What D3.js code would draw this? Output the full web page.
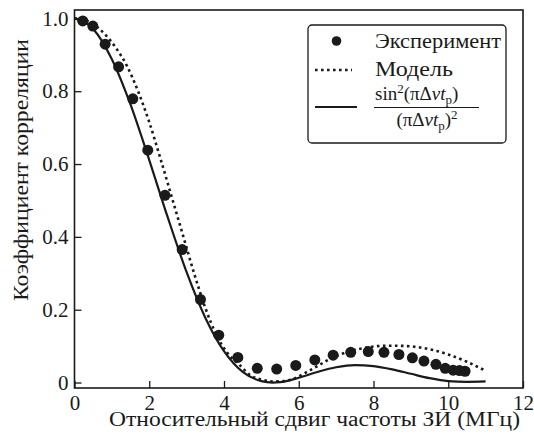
<!DOCTYPE html>
<html>
<head>
<meta charset="utf-8">
<script src="https://cdn.jsdelivr.net/npm/d3@7"></script>
</head>
<body style="margin:0">
<div id="chart"></div>
<script>
// experiment points
var expX = [0.22, 0.49, 0.82, 1.18, 1.56, 1.96, 2.42, 2.88, 3.37, 3.86, 4.37, 4.89, 5.41, 5.92,
            6.43, 6.92, 7.39, 7.86, 8.28, 8.68, 9.04, 9.35, 9.67, 9.92, 10.13, 10.3, 10.45];
var expY = [0.993, 0.979, 0.929, 0.867, 0.779, 0.638, 0.514, 0.365, 0.228, 0.130, 0.069, 0.039, 0.037, 0.047,
            0.062, 0.075, 0.083, 0.085, 0.083, 0.077, 0.068, 0.059, 0.050, 0.039, 0.034, 0.033, 0.031];

// model (dotted line)
var modelX = [0, 0.2, 0.5, 0.8, 1.1, 1.4, 1.7, 2.0, 2.3, 2.6, 2.9, 3.2, 3.5, 3.8, 4.1, 4.4, 4.7, 5.0, 5.3,
              5.6, 5.9, 6.2, 6.5, 6.8, 7.1, 7.4, 7.7, 8.0, 8.3, 8.6, 8.9, 9.2, 9.6, 10.0, 10.5, 11.0];
var modelY = [1.0, 0.998, 0.984, 0.958, 0.92, 0.87, 0.80, 0.715, 0.615, 0.51, 0.405, 0.30, 0.205, 0.13, 0.08,
              0.05, 0.02, 0.008, 0.003, 0.004, 0.012, 0.028, 0.045, 0.063, 0.077, 0.087, 0.094, 0.099, 0.101,
              0.101, 0.100, 0.097, 0.089, 0.077, 0.057, 0.032];

// sin^2/(x)^2 curve (solid line)
var sincX = [0, 0.5, 1, 1.5, 2, 2.5, 3, 3.5, 4, 4.5, 5, 5.3, 5.5, 6, 6.5, 7, 7.5, 8, 8.5, 9, 9.5, 10, 10.5, 11];
var sincY = [1, 0.971, 0.888, 0.763, 0.611, 0.452, 0.303, 0.178, 0.086, 0.029, 0.004, 0, 0.001, 0.013,
             0.029, 0.042, 0.048, 0.045, 0.036, 0.024, 0.012, 0.004, 0.002, 0.003];

var xTicks = [0, 2, 4, 6, 8, 10, 12];
var yTicks = [0, 0.2, 0.4, 0.6, 0.8, 1.0];
var xTitle = "Относительный сдвиг частоты ЗИ (МГц)";
var yTitle = "Коэффициент корреляции";
var legendLabels = ["Эксперимент", "Модель"];

var serif = '"Liberation Serif"';
var ink = "#1a1a1a";

// set the dimensions and margins of the graph
var margin = {top: 10, right: 11, bottom: 50, left: 74.5},
    width = 534 - margin.left - margin.right,
    height = 438 - margin.top - margin.bottom;

const svg = d3.select("#chart")
  .append("svg")
  .attr("width", 534)
  .attr("height", 438);

const g = svg.append("g")
  .attr("transform", `translate(${margin.left}, ${margin.top})`);

const x = d3.scaleLinear()
  .domain([0, 12])
  .range([0, width]);

const y = d3.scaleLinear()
  .domain([-0.015, 1.023])
  .range([height, 0]);

// X axis
const xAxis = g.append("g")
  .attr("transform", `translate(0, ${height})`)
  .call(d3.axisBottom(x).tickValues(xTicks).tickSize(-7).tickPadding(7).tickFormat(d3.format("d")));
xAxis.attr("font-family", serif).attr("font-size", 21);
xAxis.select(".domain").remove();
xAxis.selectAll("line").attr("stroke", ink).attr("stroke-width", 1.3);
xAxis.selectAll("text")
  .attr("font-family", serif).attr("font-size", 21).attr("fill", ink);

// Y axis
const yAxis = g.append("g")
  .call(d3.axisLeft(y).tickValues(yTicks).tickSize(-7).tickPadding(6)
    .tickFormat(function(d) { return d === 0 ? "0" : d3.format(".1f")(d); }));
yAxis.attr("font-family", serif).attr("font-size", 21);
yAxis.select(".domain").remove();
yAxis.selectAll("line").attr("stroke", ink).attr("stroke-width", 1.3);
yAxis.selectAll("text")
  .attr("font-family", serif).attr("font-size", 21).attr("fill", ink);

// frame
g.append("rect")
  .attr("x", 0).attr("y", 0)
  .attr("width", width).attr("height", height)
  .attr("fill", "none")
  .attr("stroke", ink)
  .attr("stroke-width", 1.6);

// lines
const sincData = sincX.map(function(d, i) { return [d, sincY[i]]; });
const modelData = modelX.map(function(d, i) { return [d, modelY[i]]; });

const line = d3.line()
  .x(function(d) { return x(d[0]); })
  .y(function(d) { return y(d[1]); })
  .curve(d3.curveMonotoneX);

g.append("path")
  .datum(sincData)
  .attr("d", line)
  .attr("fill", "none")
  .attr("stroke", ink)
  .attr("stroke-width", 2.2);

g.append("path")
  .datum(modelData)
  .attr("d", line)
  .attr("fill", "none")
  .attr("stroke", ink)
  .attr("stroke-width", 2.6)
  .attr("stroke-dasharray", "2.6,3.4");

// Add dots
g.append("g")
  .selectAll("circle")
  .data(expX)
  .join("circle")
  .attr("cx", function(d) { return x(d); })
  .attr("cy", function(d, i) { return y(expY[i]); })
  .attr("r", 5.5)
  .attr("fill", ink);

// axis titles
svg.append("text")
  .attr("x", 109)
  .attr("y", 426)
  .attr("font-family", serif).attr("font-size", 20).attr("fill", ink)
  .attr("textLength", 411).attr("lengthAdjust", "spacingAndGlyphs")
  .text(xTitle);

svg.append("text")
  .attr("transform", "translate(28, 301) rotate(-90)")
  .attr("font-family", serif).attr("font-size", 20).attr("fill", ink)
  .attr("textLength", 262).attr("lengthAdjust", "spacingAndGlyphs")
  .text(yTitle);

// legend
const leg = svg.append("g");
leg.append("rect")
  .attr("x", 308).attr("y", 25)
  .attr("width", 198).attr("height", 118)
  .attr("rx", 4)
  .attr("fill", "#fff")
  .attr("stroke", ink)
  .attr("stroke-width", 1.3);

leg.append("circle")
  .attr("cx", 336.5).attr("cy", 41)
  .attr("r", 4.8)
  .attr("fill", ink);
leg.append("text")
  .attr("x", 375).attr("y", 48)
  .attr("font-family", serif).attr("font-size", 20).attr("fill", ink)
  .attr("textLength", 126).attr("lengthAdjust", "spacingAndGlyphs")
  .text(legendLabels[0]);

leg.append("line")
  .attr("x1", 315).attr("x2", 352)
  .attr("y1", 70).attr("y2", 70)
  .attr("stroke", ink)
  .attr("stroke-width", 2.6)
  .attr("stroke-dasharray", "2.6,3.4");
leg.append("text")
  .attr("x", 375).attr("y", 76)
  .attr("font-family", serif).attr("font-size", 20).attr("fill", ink)
  .attr("textLength", 78).attr("lengthAdjust", "spacingAndGlyphs")
  .text(legendLabels[1]);

leg.append("line")
  .attr("x1", 315).attr("x2", 357)
  .attr("y1", 107).attr("y2", 107)
  .attr("stroke", ink)
  .attr("stroke-width", 2.2);

// formula: sin^2(pi dv t_p) / (pi dv t_p)^2
const num = leg.append("text")
  .attr("x", 375).attr("y", 100)
  .attr("font-family", serif).attr("font-size", 19).attr("fill", ink);
num.append("tspan").text("sin");
num.append("tspan").attr("dy", -7).attr("font-size", 13).text("2");
num.append("tspan").attr("dy", 7).text("(πΔ");
num.append("tspan").attr("font-style", "italic").text("νt");
num.append("tspan").attr("dy", 4).attr("font-size", 13).text("p");
num.append("tspan").attr("dy", -4).text(")");

leg.append("line")
  .attr("x1", 374).attr("x2", 479)
  .attr("y1", 107.5).attr("y2", 107.5)
  .attr("stroke", ink)
  .attr("stroke-width", 1.2);

const den = leg.append("text")
  .attr("x", 427).attr("y", 126)
  .attr("text-anchor", "middle")
  .attr("font-family", serif).attr("font-size", 19).attr("fill", ink);
den.append("tspan").text("(πΔ");
den.append("tspan").attr("font-style", "italic").text("νt");
den.append("tspan").attr("dy", 4).attr("font-size", 13).text("p");
den.append("tspan").attr("dy", -4).text(")");
den.append("tspan").attr("dy", -7).attr("font-size", 13).text("2");
</script>
</body>
</html>
